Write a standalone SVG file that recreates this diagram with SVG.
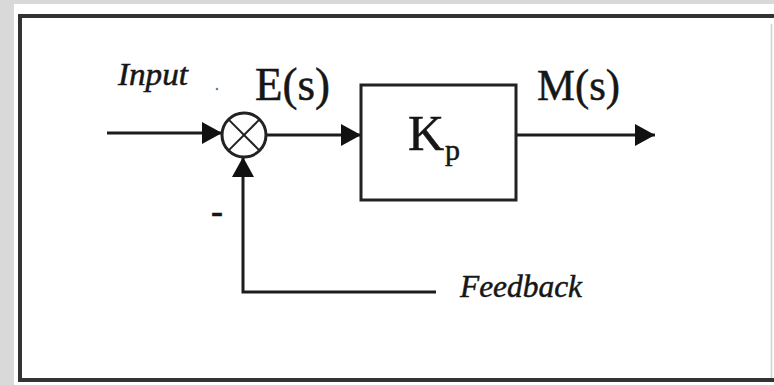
<svg xmlns="http://www.w3.org/2000/svg" width="774" height="385" viewBox="0 0 774 385">
  <defs>
    <marker id="arrow" markerUnits="userSpaceOnUse" markerWidth="22" markerHeight="24" refX="20" refY="11" orient="auto">
      <polygon points="0,0 20,11 0,22" fill="#111"/>
    </marker>
    <style>
      .wire { fill: none; stroke: #1c1c1c; stroke-width: 3; }
      .block { fill: #fff; stroke: #222; stroke-width: 3; }
      .serif { font-family: "Liberation Serif", "Times New Roman", serif; fill: #161616; stroke: #161616; stroke-width: 0.5; }
      .ital { font-style: italic; }
    </style>
  </defs>

  <!-- page background and frame -->
  <rect x="0" y="0" width="774" height="385" fill="#d9d9d9"/>
  <rect x="14" y="4" width="760" height="381" fill="#fff"/>
  <rect x="20" y="16" width="762" height="364" fill="#fff" stroke="#333" stroke-width="4"/>
  <line x1="771.5" y1="24" x2="771.5" y2="378" stroke="#d0d0d0" stroke-width="1.5"/>

  <!-- connectors -->
  <g id="connectors">
    <line class="wire" x1="107" y1="133" x2="222" y2="133" marker-end="url(#arrow)"/>
    <line class="wire" x1="266" y1="135" x2="361" y2="135" marker-end="url(#arrow)"/>
    <line class="wire" x1="516" y1="135" x2="655" y2="135" marker-end="url(#arrow)"/>
    <polyline class="wire" points="436,292 243,292 243,157" marker-end="url(#arrow)"/>
  </g>

  <!-- summing junction -->
  <g id="sum">
    <circle cx="244" cy="135" r="22" fill="#fff" stroke="#222" stroke-width="3"/>
    <line x1="228.4" y1="119.4" x2="259.6" y2="150.6" stroke="#222" stroke-width="2"/>
    <line x1="259.6" y1="119.4" x2="228.4" y2="150.6" stroke="#222" stroke-width="2"/>
    <text class="serif" x="211" y="223" font-size="36" font-weight="bold">-</text>
  </g>

  <!-- gain block: K with subscript p -->
  <g id="gain">
    <rect class="block" x="361" y="85" width="155" height="115"/>
    <text class="serif" x="408" y="150" font-size="50">K<tspan font-size="30" dx="1" dy="10">p</tspan></text>
  </g>

  <!-- signal labels -->
  <g id="labels">
    <text class="serif ital" x="118" y="85" font-size="31" textLength="70" lengthAdjust="spacingAndGlyphs">Input</text>
    <circle cx="217" cy="89" r="1.3" fill="#5b86a8"/>
    <text class="serif" x="255" y="100" font-size="46" textLength="75" lengthAdjust="spacingAndGlyphs">E(s)</text>
    <text class="serif" x="537" y="100" font-size="44" textLength="83" lengthAdjust="spacingAndGlyphs">M(s)</text>
    <text class="serif ital" x="460" y="297" font-size="32" textLength="122" lengthAdjust="spacingAndGlyphs">Feedback</text>
  </g>
</svg>
